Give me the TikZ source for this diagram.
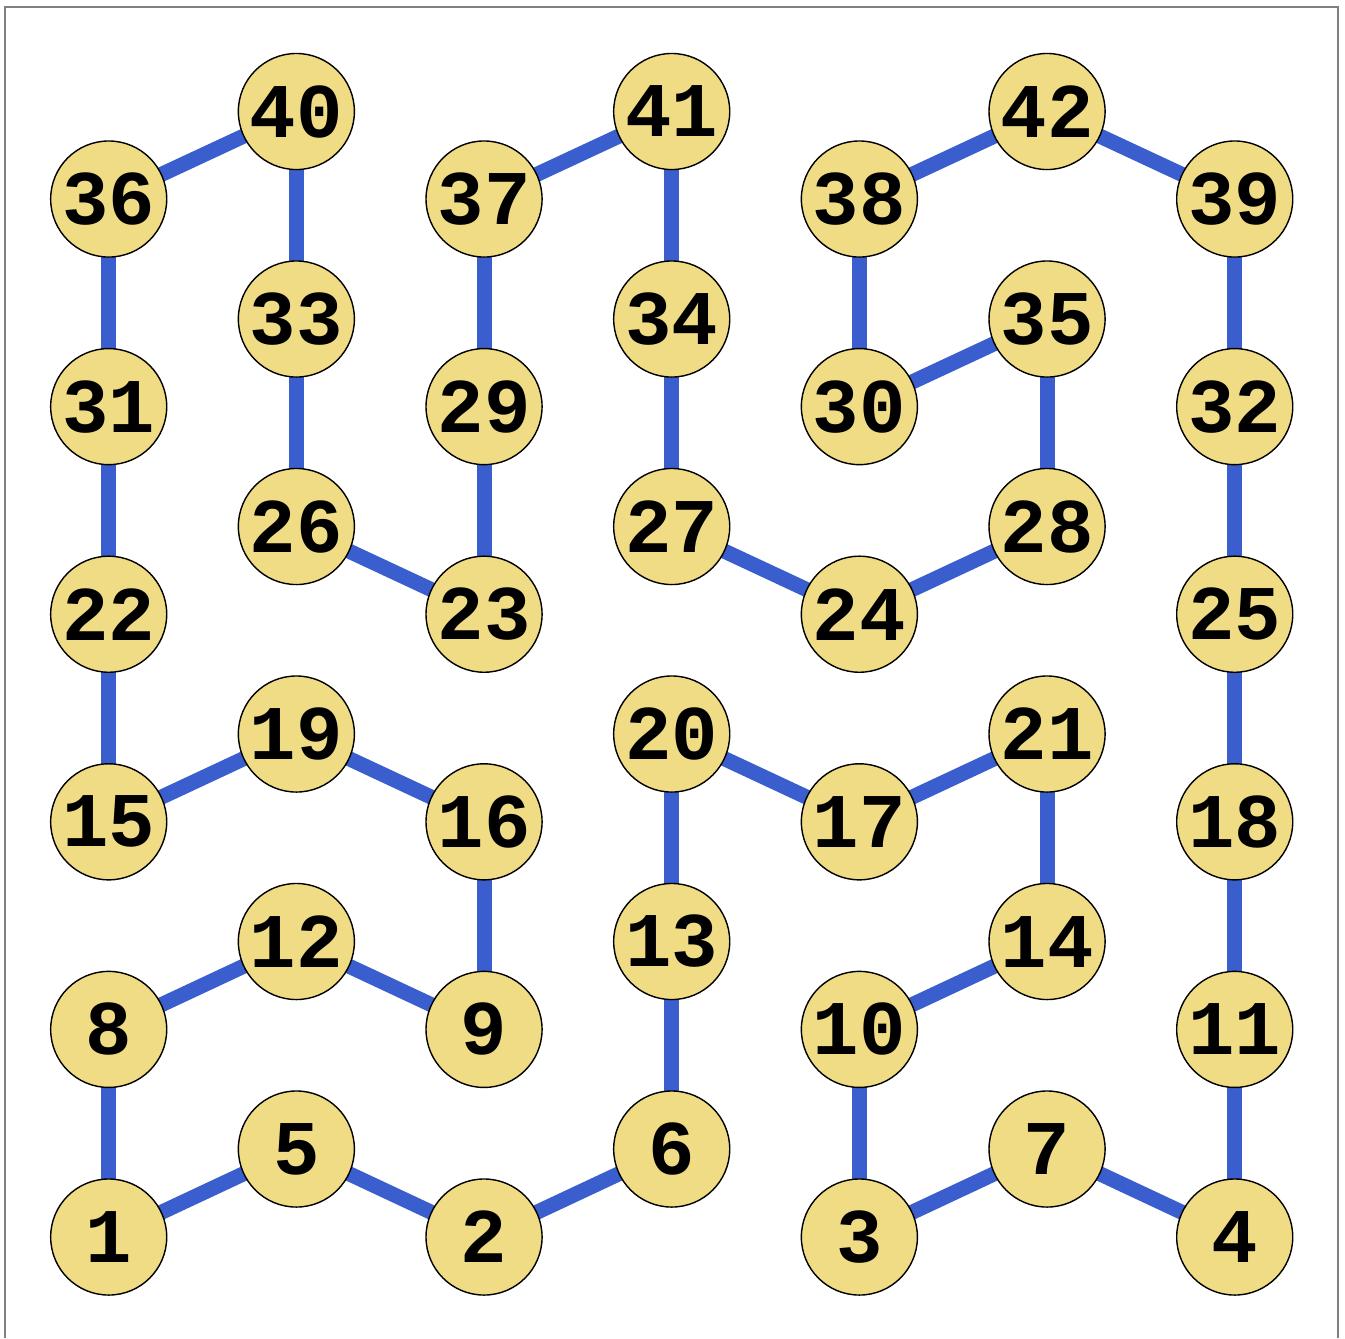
\documentclass[tikz,border=0pt]{standalone}
\usepackage{fontspec}
\setmonofont{Liberation Mono}
\usetikzlibrary{backgrounds}

\definecolor{cellfill}{RGB}{239,220,133}
\definecolor{pathblue}{RGB}{58,94,206}
\definecolor{framegray}{RGB}{128,128,128}

\tikzset{
  cell/.style={circle, draw=black, line width=0.4pt, fill=cellfill,
    minimum size=1.16cm, inner sep=0pt,
    font=\ttfamily\bfseries\fontsize{22}{26}\selectfont},
  link/.style={pathblue, line width=0.15cm},
}

\begin{document}
\begin{tikzpicture}[x=0.01cm, y=-0.01cm]
    \useasboundingbox (0,0) rectangle (1345,1338);

    % Frame, open at the bottom
    \draw[framegray, line width=0.02cm] (5,1338) -- (5,7) -- (1338,7) -- (1338,1338);

    % Lower cells (columns 0, 2, 4, 6)
    \foreach \n/\c/\r in {1/0/0, 2/2/0, 3/4/0, 4/6/0,
                          8/0/1, 9/2/1, 10/4/1, 11/6/1,
                          15/0/2, 16/2/2, 17/4/2, 18/6/2,
                          22/0/3, 23/2/3, 24/4/3, 25/6/3,
                          31/0/4, 29/2/4, 30/4/4, 32/6/4,
                          36/0/5, 37/2/5, 38/4/5, 39/6/5}
        \node[cell] (n\n) at ({108.7+187.67*\c}, {1237-207.6*\r}) {\n};

    % Upper cells (columns 1, 3, 5)
    \foreach \n/\c/\r in {5/1/0, 6/3/0, 7/5/0,
                          12/1/1, 13/3/1, 14/5/1,
                          19/1/2, 20/3/2, 21/5/2,
                          26/1/3, 27/3/3, 28/5/3,
                          33/1/4, 34/3/4, 35/5/4,
                          40/1/5, 41/3/5, 42/5/5}
        \node[cell] (n\n) at ({108.7+187.67*\c}, {1149-207.5*\r}) {\n};

    % The closed path through all cells
    \begin{pgfonlayer}{background}
        \foreach \a/\b in {1/5, 5/2, 2/6, 6/13, 13/20, 20/17, 17/21, 21/14,
                           14/10, 10/3, 3/7, 7/4, 4/11, 11/18, 18/25, 25/32,
                           32/39, 39/42, 42/38, 38/30, 30/35, 35/28, 28/24, 24/27,
                           27/34, 34/41, 41/37, 37/29, 29/23, 23/26, 26/33, 33/40,
                           40/36, 36/31, 31/22, 22/15, 15/19, 19/16, 16/9, 9/12,
                           12/8, 8/1}
            \draw[link] (n\a.center) -- (n\b.center);
    \end{pgfonlayer}
\end{tikzpicture}
\end{document}
